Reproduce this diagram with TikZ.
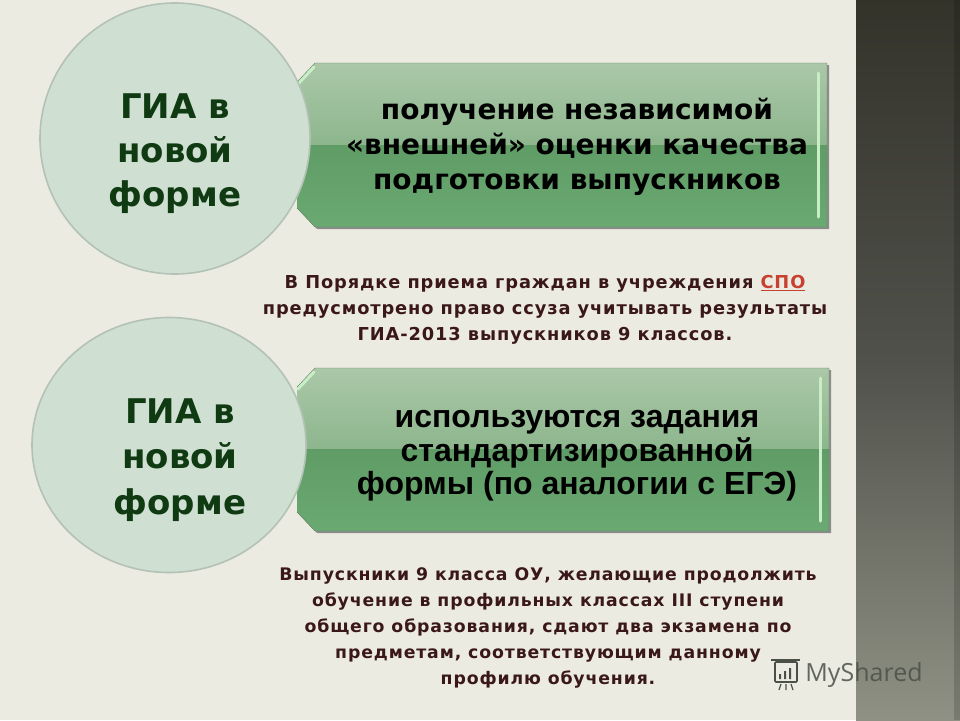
\documentclass[tikz,border=0pt]{standalone}
\usepackage{fontspec}
\setmainfont{DejaVu Sans}
\newfontfamily\wideface[LetterSpace=5]{DejaVu Sans}
\newfontfamily\arialface{Liberation Sans}
\newfontfamily\markface{Open Sans}
\usetikzlibrary{positioning,shapes.geometric}
\definecolor{pagebg}{HTML}{ECEBE2}
\definecolor{stripdark}{HTML}{33332A}
\definecolor{stripmid}{HTML}{50514A}
\definecolor{striplight}{HTML}{8F9184}
\definecolor{circlefill}{HTML}{CFDFD2}
\definecolor{circleedge}{HTML}{B4C2B6}
\definecolor{circletext}{HTML}{0F3A12}
\definecolor{notetext}{HTML}{3A1818}
\definecolor{linkred}{HTML}{C8402F}
\definecolor{glint}{HTML}{C8EEC6}
\definecolor{bandtop}{HTML}{ABC8A8}
\definecolor{bandmid}{HTML}{8DB68D}
\definecolor{bandlow}{HTML}{5F9C66}
\definecolor{bandend}{HTML}{6BA972}
\definecolor{bandedge}{HTML}{5E7F60}
\definecolor{markgrey}{HTML}{4A5048}

\begin{document}
\begin{tikzpicture}
      [x=1pt, y=-1pt, semithick,
      circlelabel/.style={align=center, text=circletext, font=\bfseries\fontsize{34}{44}\selectfont},
      circlelabelb/.style={circlelabel, font=\bfseries\fontsize{34}{45.5}\selectfont},
      boxlabel/.style={align=center, text=black, font=\bfseries\fontsize{28}{35}\selectfont},
      boxlabelb/.style={align=center, text=black, font=\arialface\bfseries\fontsize{32}{33.5}\selectfont},
      notelabel/.style={align=center, text=notetext, font=\wideface\bfseries\fontsize{17.8}{26}\selectfont},
      notelabelb/.style={notelabel, font=\wideface\bfseries\fontsize{17.3}{25.8}\selectfont},
      roundel/.style={ellipse, fill=circlefill, draw=circleedge, line width=1.6pt, inner sep=0pt},
      upperhalf/.style={top color=bandtop, bottom color=bandmid},
      lowerhalf/.style={top color=bandlow, bottom color=bandend},
      bandline/.style={draw=bandedge, thin},
      glintline/.style={draw=glint, line width=3pt, line cap=round}]

      \useasboundingbox (0,0) rectangle (960,720);
      \fill [pagebg] (0,0) rectangle (960,720);
      \shade [top color=stripdark, bottom color=striplight, middle color=stripmid] (856,0) rectangle (960,720);
      \fill [black, opacity=.15] (954,0) rectangle (960,720);

      % upper band
      \fill [black!45] (299,84) -- (317,65) -- (829,65) -- (829,229) -- (317,229) -- (299,210) -- cycle;
      \shade [upperhalf] (297,82) -- (315,63) -- (827,63) -- (827,145) -- (297,145) -- cycle;
      \shade [lowerhalf] (297,145) -- (827,145) -- (827,227) -- (315,227) -- (297,208) -- cycle;
      \draw [bandline] (297,82) -- (315,63) -- (827,63) -- (827,227) -- (315,227) -- (297,208);
      \draw [glintline] (818,73) -- (818,217);
      \draw [glintline] (298,84) -- (314,67);

      % lower band
      \fill [black!45] (299,389) -- (317,370) -- (831,370) -- (831,533) -- (317,533) -- (299,514) -- cycle;
      \shade [upperhalf] (297,387) -- (315,368) -- (829,368) -- (829,449) -- (297,449) -- cycle;
      \shade [lowerhalf] (297,449) -- (829,449) -- (829,531) -- (315,531) -- (297,512) -- cycle;
      \draw [bandline] (297,387) -- (315,368) -- (829,368) -- (829,531) -- (315,531) -- (297,512);
      \draw [glintline] (820,378) -- (820,521);
      \draw [glintline] (298,389) -- (314,372);

      \node [roundel, minimum width=270pt, minimum height=271pt] (roundelA) at (175,138.5) {};
      \node [roundel, minimum width=274pt, minimum height=255pt] (roundelB) at (169,445) {};

      \node [circlelabel] (giaA) at (175,153.5) {ГИА в\\новой\\форме};
      \node [circlelabelb] (giaB) at (180,460) {ГИА в\\новой\\форме};

      \node [boxlabel] (qualityA) at (577,147) {получение независимой\\«внешней» оценки качества\\подготовки выпускников};
      \node [boxlabelb] (tasksB) at (577,456) {используются задания\\стандартизированной\\формы (по аналогии с ЕГЭ)};

      \node [notelabel] (noteA) at (545,309.5) {В Порядке приема граждан в учреждения \textcolor{linkred}{\underline{СПО}}\\предусмотрено право ссуза учитывать результаты\\ГИА-2013 выпускников 9 классов.};
      \node [notelabelb] (noteB) at (548,628) {Выпускники 9 класса ОУ, желающие продолжить\\обучение в профильных классах III ступени\\общего образования, сдают два экзамена по\\предметам, соответствующим данному\\профилю обучения.};

      % watermark
      \node [text=markgrey, opacity=.85, font=\markface\fontsize{25}{25}\selectfont] (brand) at (864,675) {MyShared};
      \draw [markgrey, line width=1.6pt, rounded corners=1pt] (775,662) rectangle (797,682);
      \draw [markgrey, line width=1.4pt] (771,660) -- (800,660);
      \draw [markgrey, line width=1.2pt] (781,684) -- (779,690) (786,684) -- (786,690) (791,684) -- (793,690);
      \fill [markgrey] (779,674) rectangle (781,679) (784,671) rectangle (786,679) (789,668) rectangle (791,679);
    \end{tikzpicture}
\end{document}
